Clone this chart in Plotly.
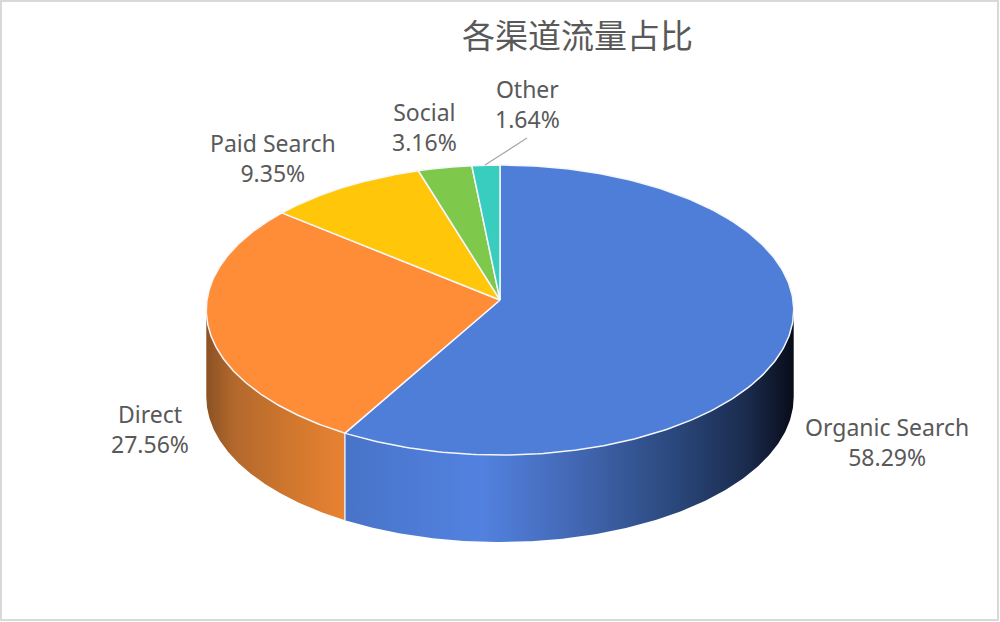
import numpy as np
import plotly.graph_objects as go

title = "各渠道流量占比"
categories = ["Organic Search", "Direct", "Paid Search", "Social", "Other"]
shares = [58.29, 27.56, 9.35, 3.16, 1.64]
labels = ["58.29%", "27.56%", "9.35%", "3.16%", "1.64%"]

top_colors = ["#4f7ed9", "#ff8c36", "#ffc60a", "#7ec94c", "#38cdbe"]
wall_scales = {
    0: [[0, "#4873c8"], [0.3, "#5282e0"], [0.5, "#4469b6"], [0.72, "#2c4a80"],
        [0.9, "#1a2a4c"], [1, "#080c18"]],
    1: [[0, "#8a5224"], [0.2, "#b3682c"], [0.6, "#cf772e"], [1, "#e98232"]],
}

# Pie geometry in the picture's pixel frame (perspective-projected disc)
CX, CY, A, B, K, DEPTH = 500, 300, 293, 144.3, 0.069, 87


def project(theta, depth=0):
    s = 1 / (1 + K * np.cos(theta))
    return CX + A * np.sin(theta) * s, CY - B * np.cos(theta) * s + depth


fractions = np.array(shares) / sum(shares)
edges = np.concatenate([[0], np.cumsum(fractions)]) * 2 * np.pi
right_limit = np.arccos(-K)
left_limit = 2 * np.pi - right_limit

fig = go.Figure()

# Side walls: only the slices that reach the front half
for i in wall_scales:
    a0, a1 = max(edges[i], right_limit), min(edges[i + 1], left_limit)
    th = np.linspace(a0, a1, 200)
    xt, yt = project(th)
    xb, yb = project(th[::-1], DEPTH)
    fig.add_trace(go.Scatter(
        x=np.concatenate([xt, xb, xt[:1]]), y=np.concatenate([yt, yb, yt[:1]]),
        mode="lines", line=dict(width=0), fill="toself",
        fillgradient=dict(type="horizontal", colorscale=wall_scales[i]),
        hoverinfo="skip", showlegend=False))

# Seam between the two visible walls
seam_x, seam_y = project(edges[1])
fig.add_trace(go.Scatter(x=[seam_x, seam_x], y=[seam_y, seam_y + DEPTH], mode="lines",
                         line=dict(color="#e9eef8", width=1.4),
                         hoverinfo="skip", showlegend=False))

# Top face
for i, name in enumerate(categories):
    th = np.linspace(edges[i], edges[i + 1], 240)
    x, y = project(th)
    fig.add_trace(go.Scatter(
        x=np.concatenate([[CX], x, [CX]]), y=np.concatenate([[CY], y, [CY]]),
        mode="lines", fill="toself", fillcolor=top_colors[i],
        line=dict(color="#f4f6fa", width=1.5),
        name=name, hoverinfo="name", showlegend=False))

label_pos = [(887, 442), (150, 429), (273, 158), (424, 127), (527, 104)]
annotations = [
    dict(x=px, y=py, xref="x", yref="y", text=f"{c}<br>{v}", showarrow=False,
         font=dict(family="Noto Sans", size=23, color="#595959"),
         xanchor="center", yanchor="middle", align="center")
    for (px, py), c, v in zip(label_pos, categories, labels)
]
annotations.append(dict(x=577, y=34, xref="x", yref="y", text=title, showarrow=False,
                        font=dict(family="Noto Sans CJK SC", size=33, color="#595959"),
                        xanchor="center", yanchor="middle"))

fig.update_layout(
    width=1000, height=622, margin=dict(l=0, r=0, t=0, b=0),
    paper_bgcolor="white", plot_bgcolor="white", showlegend=False,
    xaxis=dict(range=[0, 1000], visible=False, fixedrange=True),
    yaxis=dict(range=[622, 0], visible=False, fixedrange=True),
    annotations=annotations,
    shapes=[
        dict(type="rect", x0=1, y0=1, x1=998, y1=620, xref="x", yref="y",
             line=dict(color="#d9d9d9", width=2), layer="above"),
        dict(type="line", x0=527, y0=138, x1=485, y1=165, xref="x", yref="y",
             line=dict(color="#a6a6a6", width=1.2), layer="above"),
    ],
)

fig.write_html("out.html", config={"displayModeBar": False},
               post_script="document.body.style.margin='0';")
